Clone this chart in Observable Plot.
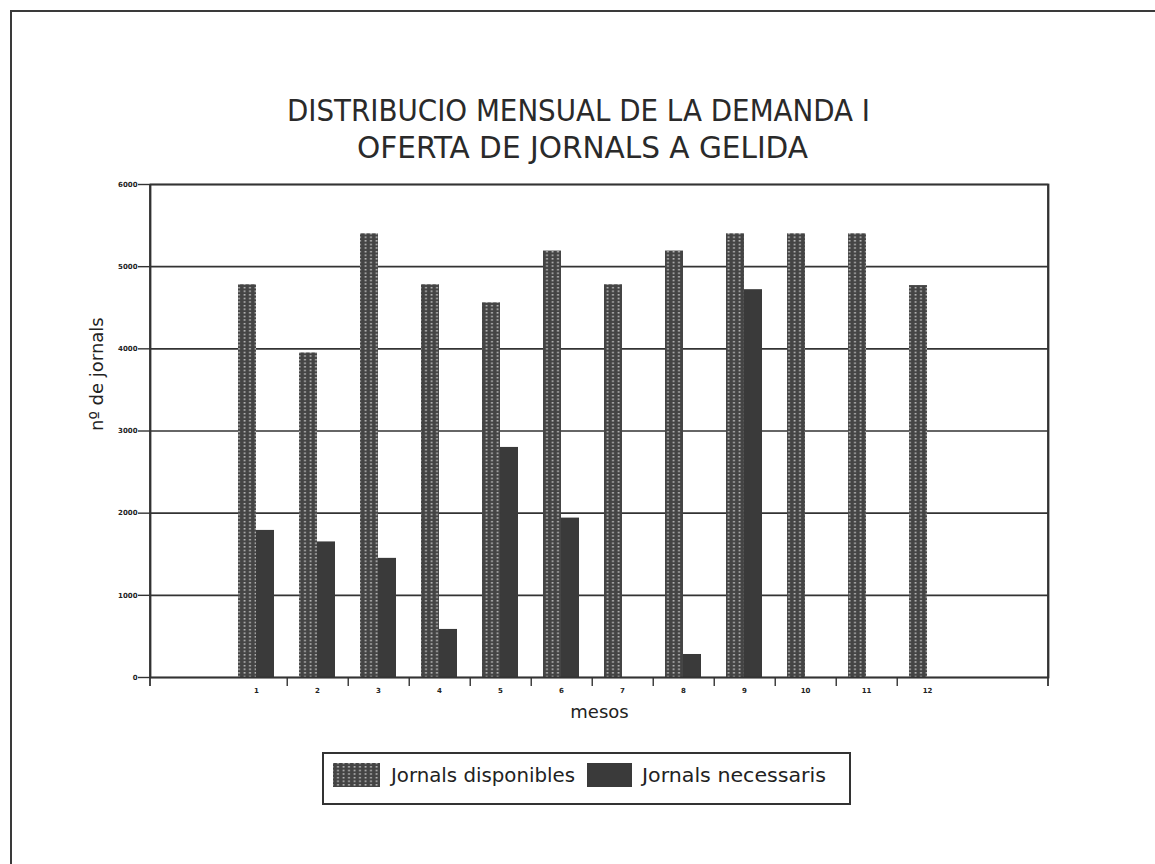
<!DOCTYPE html>
<html>
<head>
<meta charset="utf-8">
<script src="https://cdn.jsdelivr.net/npm/d3@7"></script>
<script src="https://cdn.jsdelivr.net/npm/@observablehq/plot@0.6"></script>
<style>
  html, body { margin: 0; padding: 0; background: #fff; }
  #page { position: relative; width: 1155px; height: 864px; overflow: hidden; background: #fff; font-family: "DejaVu Sans", sans-serif; }
  #border { position: absolute; left: 10px; top: 10px; width: 1160px; height: 870px; border-top: 2.5px solid #3a3a3a; border-left: 2.5px solid #3a3a3a; box-sizing: border-box; }
  #title { position: absolute; left: 0; top: 0; }
  #chart { position: absolute; left: 0; top: 160px; }
  #legend { position: absolute; left: 0; top: 740px; }
</style>
</head>
<body>
<div id="page">
  <div id="border"></div>
  <svg id="title" width="1155" height="170"></svg>
  <div id="chart"></div>
  <svg id="legend" width="1155" height="80"></svg>
</div>
<script>
// ---- data ----
const titleLines = ["DISTRIBUCIO MENSUAL DE LA DEMANDA I", "OFERTA DE JORNALS A GELIDA"];
const months = ["1","2","3","4","5","6","7","8","9","10","11","12"];
const disponibles = [4780, 3950, 5400, 4780, 4560, 5190, 4780, 5190, 5400, 5400, 5400, 4770];
const necessaris  = [1790, 1650, 1450, 585, 2800, 1940, 0, 280, 4720, 0, 0, 0];
const yTicks = [0, 1000, 2000, 3000, 4000, 5000, 6000];
const seriesNames = ["Jornals disponibles", "Jornals necessaris"];
const xLabel = "mesos";
const yLabel = "nº de jornals";

const rows = months.map((m, i) => ({month: m, disponibles: disponibles[i], necessaris: necessaris[i]}));

// ---- layout ----
const W = 1155, H = 580;
const mL = 150, mR = 107, mT = 24, mB = 63;
const pInner = 0.414, pOuter = 1.513;
const step = (W - mL - mR) / (months.length - pInner + 2 * pOuter);
const bw = step * (1 - pInner);
const ink = "#333";

const edgeLines = (index, scales, values, dims) => {
  const g = d3.create("svg:g").attr("stroke", ink).attr("stroke-width", 1.8);
  for (const x of [dims.marginLeft, dims.width - dims.marginRight]) {
    g.append("line").attr("x1", x).attr("x2", x)
      .attr("y1", dims.marginTop).attr("y2", dims.height - dims.marginBottom + 9);
  }
  return g.node();
};

const chart = Plot.plot({
  width: W, height: H,
  marginLeft: mL, marginRight: mR, marginTop: mT, marginBottom: mB,
  style: {fontFamily: "DejaVu Sans, sans-serif", background: "transparent", color: "#222"},
  x: {type: "band", domain: months, paddingInner: pInner, paddingOuter: pOuter, align: 0.462, axis: null},
  y: {domain: [0, 6000], axis: null},
  marks: [
    Plot.gridY(yTicks, {stroke: ink, strokeOpacity: 1, strokeWidth: 1.6}),
    Plot.barY(rows, {x: "month", y: "disponibles", fill: "url(#dots)", insetRight: bw / 2}),
    Plot.barY(rows.filter(d => d.necessaris > 0), {x: "month", y: "necessaris", fill: "#3a3a3a", insetLeft: bw / 2}),
    Plot.frame({stroke: ink, strokeWidth: 1.8}),
    edgeLines,
    Plot.axisY(yTicks, {anchor: "left", tickSize: 12, tickPadding: 1, tickFormat: d => String(d), fontSize: 7, fontWeight: "bold", stroke: ink, strokeWidth: 1.4, label: null}),
    Plot.axisX({anchor: "bottom", tickSize: 0, tickPadding: 11, fontSize: 7, fontWeight: "bold", label: null}),
    Plot.axisX(months.slice(0, -1), {anchor: "bottom", tickSize: 9, tickFormat: () => "", dx: step / 2, stroke: ink, strokeWidth: 1.4, label: null}),
    Plot.text([xLabel], {text: d => d, frameAnchor: "bottom", dy: 40, fontSize: 18, fill: "#222"}),
    Plot.text([yLabel], {text: d => d, frameAnchor: "left", dx: -53, rotate: -90, fontSize: 18, fill: "#222"})
  ]
});

d3.select(chart).insert("defs", ":first-child").html(`
  <pattern id="dots" patternUnits="userSpaceOnUse" width="5.5" height="3.6">
    <rect width="5.5" height="3.6" fill="#444"></rect>
    <rect x="1.6" y="1" width="1.8" height="1.3" fill="#d0d0d0"></rect>
  </pattern>`);
document.getElementById("chart").appendChild(chart);

// ---- title ----
const tsvg = d3.select("#title");
const tPos = [{x: 578.5, y: 121, len: 583}, {x: 582.5, y: 158, len: 451}];
titleLines.forEach((t, i) => {
  tsvg.append("text").text(t)
    .attr("x", tPos[i].x).attr("y", tPos[i].y)
    .attr("text-anchor", "middle")
    .attr("textLength", tPos[i].len).attr("lengthAdjust", "spacingAndGlyphs")
    .attr("font-family", "DejaVu Sans Condensed, DejaVu Sans, sans-serif")
    .attr("font-weight", 300)
    .attr("font-size", 31).attr("fill", "#2a2a2a");
});

// ---- legend ----
const lsvg = d3.select("#legend");
lsvg.append("rect").attr("x", 323).attr("y", 13).attr("width", 527).attr("height", 51)
  .attr("fill", "#fff").attr("stroke", ink).attr("stroke-width", 2);
const items = [
  {name: seriesNames[0], fill: "url(#dots)", sx: 333, sw: 47, tx: 391, tl: 184},
  {name: seriesNames[1], fill: "#3a3a3a", sx: 587, sw: 45, tx: 642, tl: 184}
];
items.forEach(it => {
  lsvg.append("rect").attr("x", it.sx).attr("y", 23).attr("width", it.sw).attr("height", 24).attr("fill", it.fill);
  lsvg.append("text").text(it.name).attr("x", it.tx).attr("y", 42)
    .attr("textLength", it.tl).attr("lengthAdjust", "spacingAndGlyphs")
    .attr("font-family", "DejaVu Sans, sans-serif").attr("font-size", 19).attr("fill", "#222");
});
</script>
</body>
</html>
